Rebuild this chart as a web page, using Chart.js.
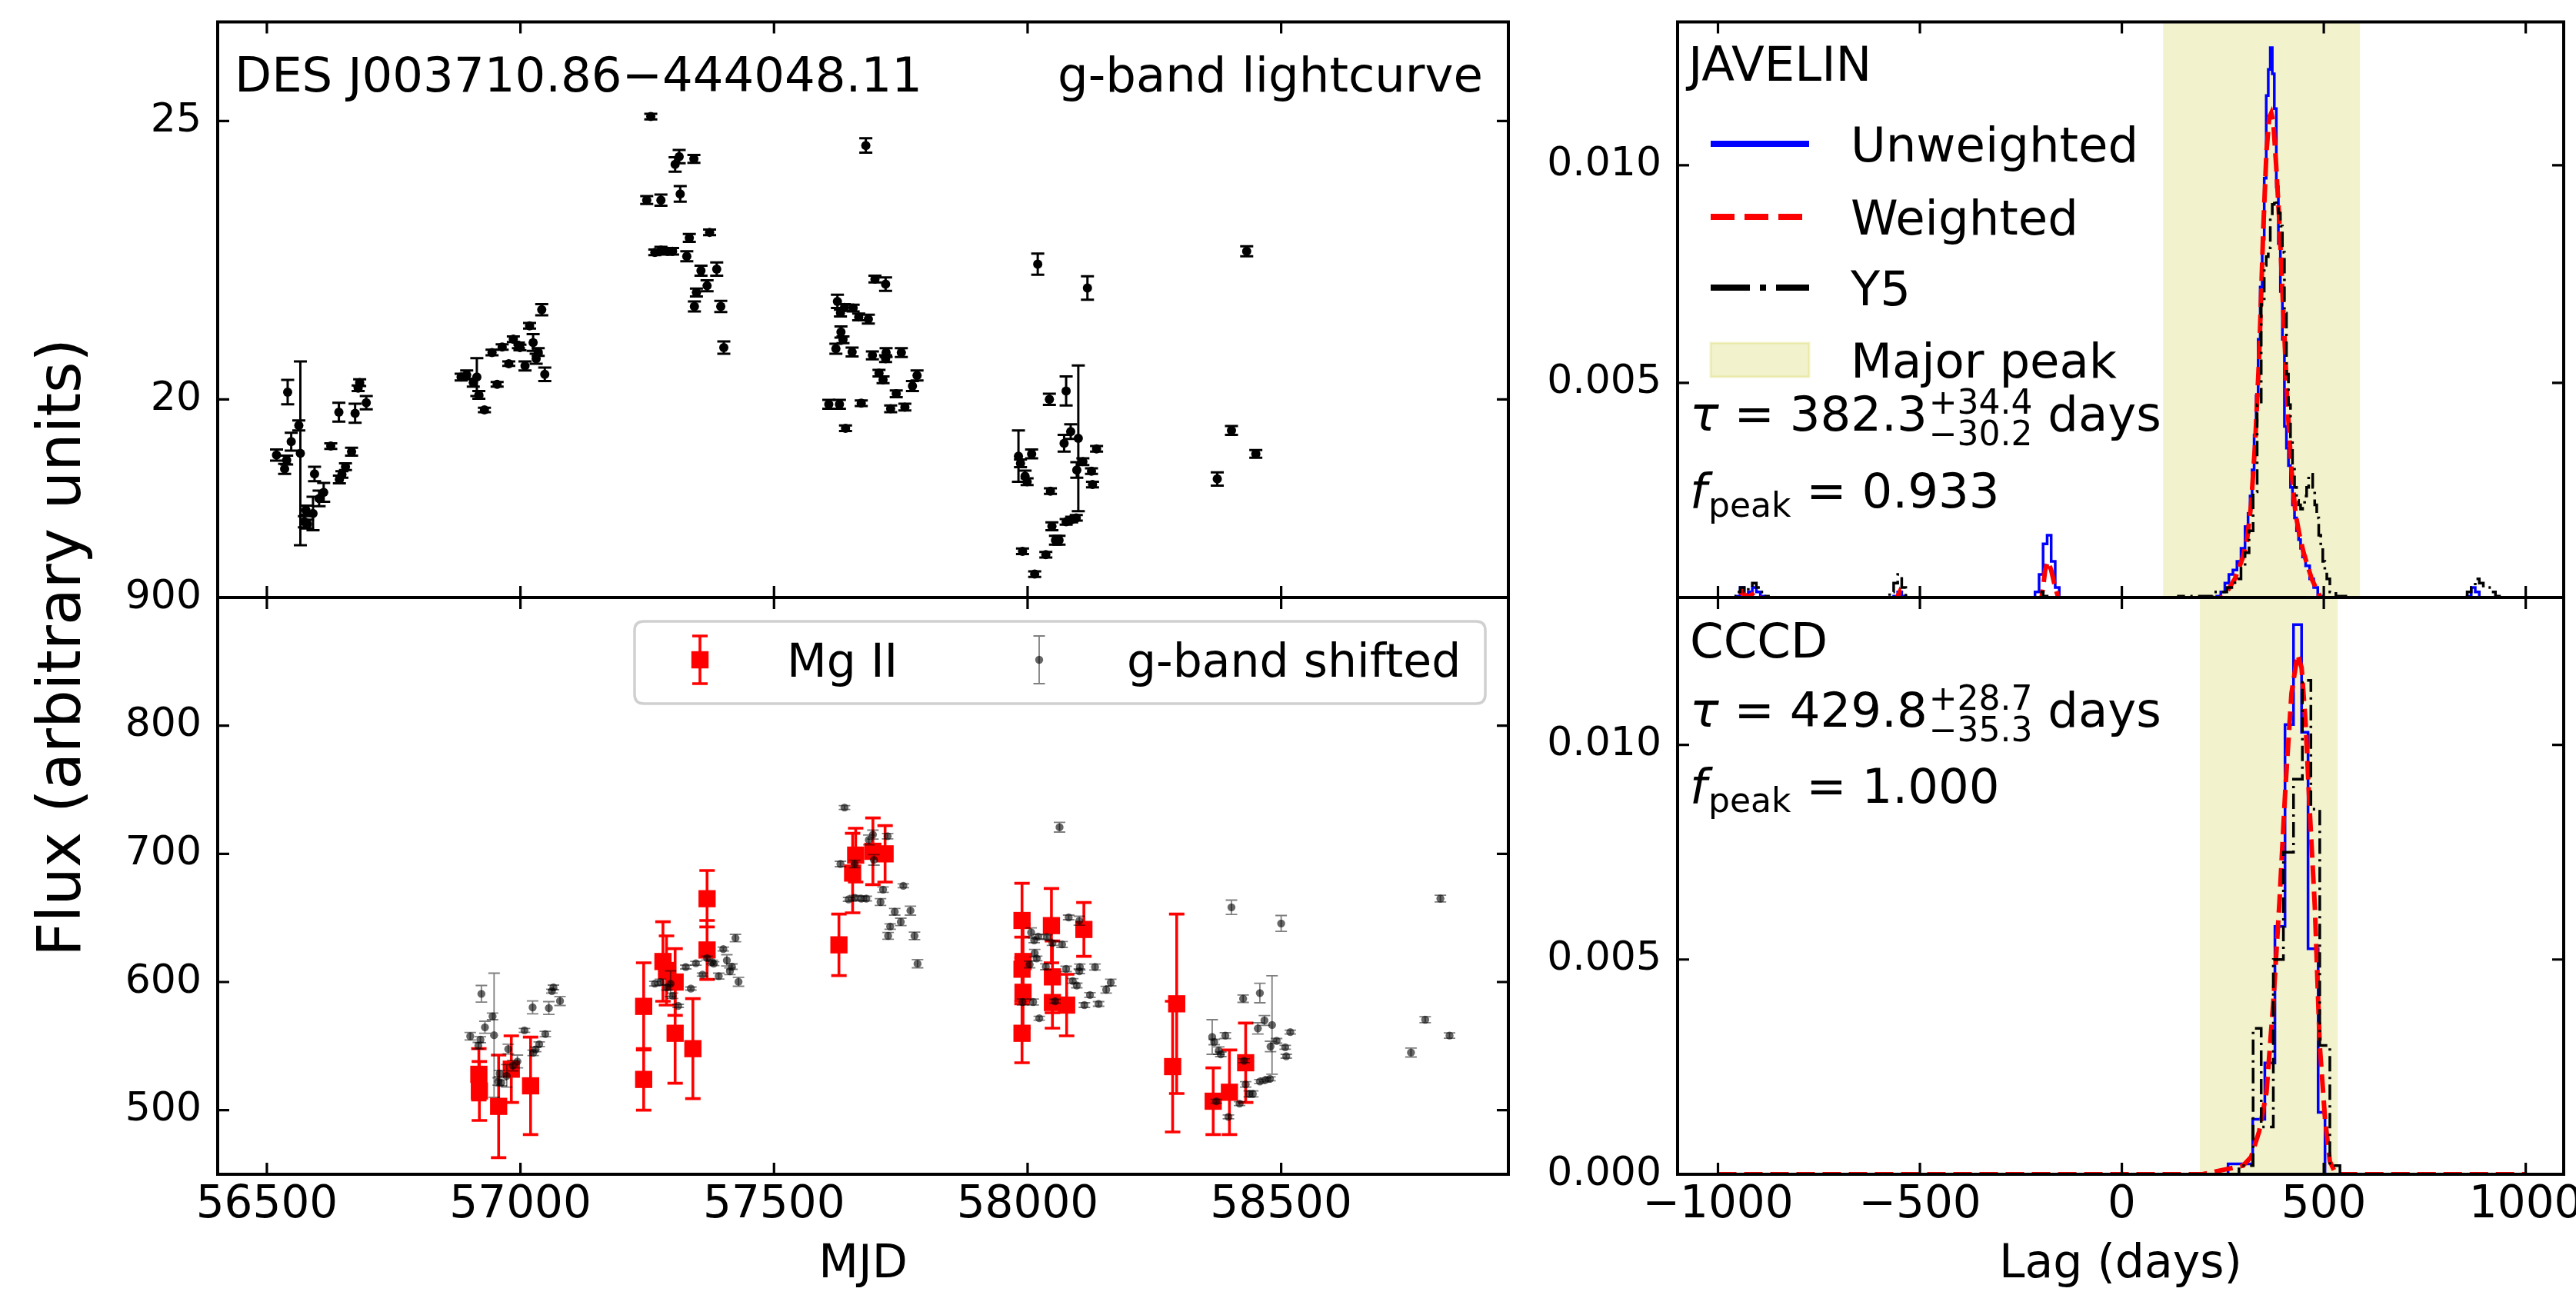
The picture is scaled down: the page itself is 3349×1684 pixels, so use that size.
<!DOCTYPE html>
<html><head><meta charset="utf-8">
<script src="https://cdn.jsdelivr.net/npm/chart.js@4.4.0/dist/chart.umd.min.js"></script>
<style>
html,body{margin:0;padding:0;background:#fff;}
#wrap{position:relative;width:3349px;height:1684px;overflow:hidden;background:#fff;}
#wrap canvas{position:absolute;left:0;top:0;}
</style></head><body>
<div id="wrap">
<canvas id="cLc" width="3349" height="1684"></canvas>
<canvas id="cLine" width="3349" height="1684"></canvas>
<canvas id="cJav" width="3349" height="1684"></canvas>
<canvas id="cCccd" width="3349" height="1684"></canvas>
</div>
<script>
// ---------------- DATA ----------------
// g-band light curve (MJD, flux, error)
const gMjd = [56519,56535,56539,56541,56548,56563,56566,56574,56577,56580,56591,56594,56603,56612,56626,56642,56643,56648,56655,56667,56674,56680,56683,56696,
 56883,56894,56907,56914,56918,56929,56944,56954,56964,56977,56986,56996,56999,57009,57018,57025,57031,57035,57042,57048,
 57249,57257,57265,57277,57277,57290,57300,57305,57313,57315,57328,57333,57342,57343,57347,57356,57368,57373,57387,57395,57401,
 57608,57622,57625,57629,57631,57632,57636,57639,57641,57654,57656,57667,57672,57681,57686,57694,57699,57707,57715,57720,57720,57721,57730,57741,57751,57758,57773,57782,
 57982,57986,57990,57995,57999,58008,58014,58020,58036,58043,58045,58048,58055,58062,58072,58076,58076,58085,58087,58096,58097,58100,58109,58118,58126,58128,58136,
 58374,58402,58432,58450];
const gFlux = [19.00,18.75,18.91,20.13,19.24,19.53,19.03,17.80,18.01,17.76,17.95,18.66,18.22,18.33,19.16,19.77,18.56,18.65,18.79,19.06,19.75,20.20,20.30,19.94,
 20.40,20.44,20.30,20.40,20.08,19.81,20.84,20.27,20.94,20.64,21.08,20.97,20.93,20.60,21.32,21.02,20.73,20.85,21.61,20.45,
 23.58,25.08,22.64,23.58,22.68,22.66,22.66,24.22,24.36,23.69,22.57,22.90,24.32,21.67,21.92,22.31,22.04,23.00,22.34,21.67,20.93,
 19.91,20.91,21.76,19.91,21.55,21.21,21.07,21.65,19.48,20.85,21.64,21.48,19.93,24.56,21.44,20.79,22.16,20.47,20.35,22.07,20.73,20.84,19.83,20.10,20.84,19.86,20.24,20.43,
 18.98,18.85,17.27,18.62,18.52,19.02,16.86,22.43,17.21,20.00,18.35,17.72,17.47,17.47,19.21,20.15,17.80,19.42,17.84,17.87,18.73,19.30,18.88,22.00,18.71,18.47,19.11,
 18.57,19.44,22.66,19.02];
const gErr = [0.10,0.09,0.08,0.22,0.16,0.09,1.65,0.10,0.08,0.08,0.30,0.13,0.14,0.17,0.05,0.17,0.07,0.06,0.06,0.07,0.17,0.05,0.06,0.12,
 0.06,0.08,0.07,0.34,0.07,0.04,0.05,0.04,0.05,0.04,0.05,0.05,0.05,0.08,0.05,0.15,0.09,0.07,0.10,0.12,
 0.07,0.05,0.05,0.10,0.06,0.06,0.06,0.13,0.12,0.14,0.09,0.07,0.07,0.09,0.07,0.09,0.10,0.05,0.12,0.10,0.11,
 0.08,0.09,0.12,0.08,0.06,0.10,0.06,0.06,0.05,0.08,0.06,0.06,0.05,0.13,0.08,0.07,0.06,0.06,0.06,0.12,0.06,0.08,0.06,0.06,0.08,0.06,0.09,0.09,
 0.46,0.07,0.05,0.10,0.06,0.08,0.05,0.19,0.05,0.10,0.05,0.07,0.08,0.08,0.15,0.26,0.05,0.13,0.05,0.05,0.14,1.31,0.06,0.21,0.05,0.05,0.05,
 0.12,0.08,0.09,0.07];

// g-band shifted to the Mg II flux scale (MJD, flux, error)
const gsMjd = [56901,56917,56921,56923,56930,56945,56948,56956,56959,56962,56973,56976,56985,56994,57008,57024,57025,57030,57037,57049,57056,57062,57065,57078,
 57265,57276,57289,57296,57300,57311,57326,57336,57346,57359,57368,57378,57381,57391,57400,57407,57413,57417,57424,57430,
 57631,57639,57647,57659,57659,57672,57682,57687,57695,57697,57710,57715,57724,57725,57729,57738,57750,57755,57769,57777,57783,
 57990,58004,58007,58011,58013,58014,58018,58021,58023,58036,58038,58049,58054,58063,58068,58076,58081,58089,58097,58102,58102,58103,58112,58123,58133,58140,58155,58164,
 58364,58368,58372,58377,58381,58390,58396,58402,58418,58425,58427,58430,58437,58444,58454,58458,58458,58467,58469,58478,58479,58482,58491,58500,58508,58510,58518,
 58756,58784,58814,58832];
const gsFlux = [557.7,550.3,555.0,590.8,564.7,573.2,558.5,522.4,528.6,521.3,526.8,547.7,534.8,538.0,562.3,580.2,544.7,547.4,551.5,559.4,579.7,592.9,595.8,585.2,
 598.7,599.9,595.8,598.7,589.3,581.4,611.7,594.9,614.6,605.8,618.7,615.5,614.3,604.6,625.7,616.9,608.4,612.0,634.3,600.2,
 692.1,736.1,664.5,692.1,665.7,665.1,665.1,710.9,715.0,695.3,662.4,672.1,713.8,636.0,643.3,654.8,646.9,675.1,655.7,636.0,614.3,
 584.4,613.7,638.7,584.4,632.5,622.5,618.4,635.4,571.7,611.9,635.1,630.4,585.0,720.8,629.3,610.2,650.4,600.8,597.3,647.8,608.4,611.7,582.0,589.9,611.7,582.9,594.0,599.6,
 557.1,553.2,506.9,546.5,543.6,558.2,494.8,658.3,505.1,587.0,538.6,520.1,512.7,512.7,563.8,591.4,522.4,570.0,523.6,524.5,549.7,566.5,554.1,645.7,549.1,542.1,560.9,
 545.0,570.6,665.1,558.2];
const gsErr = [2.9,2.6,2.3,6.5,4.7,2.6,48.4,2.9,2.3,2.3,8.8,3.8,4.1,5.0,1.5,5.0,2.1,1.8,1.8,2.1,5.0,1.5,1.8,3.5,
 1.8,2.3,2.1,10.0,2.1,1.2,1.5,1.2,1.5,1.2,1.5,1.5,1.5,2.3,1.5,4.4,2.6,2.1,2.9,3.5,
 2.1,1.5,1.5,2.9,1.8,1.8,1.8,3.8,3.5,4.1,2.6,2.1,2.1,2.6,2.1,2.6,2.9,1.5,3.5,2.9,3.2,
 2.3,2.6,3.5,2.3,1.8,2.9,1.8,1.8,1.5,2.3,1.8,1.8,1.5,3.8,2.3,2.1,1.8,1.8,1.8,3.5,1.8,2.3,1.8,1.8,2.3,1.8,2.6,2.6,
 13.5,2.1,1.5,2.9,1.8,2.3,1.5,5.6,1.5,2.9,1.5,2.1,2.3,2.3,4.4,7.6,1.5,3.8,1.5,1.5,4.1,38.4,1.8,6.2,1.5,1.5,1.5,
 3.5,2.3,2.6,2.1];

// Mg II line light curve
const mgMjd = [56918,56919,56957,56982,57020,57243,57243,57281,57288,57305,57305,57340,57368,57368,57628,57655,57661,57695,57719,57989,57991,57989,57991,57989,58047,58049,58049,58077,58111,58286,58294,58366,58398,58430];
const mgFlux = [528,515,503,532,519,581,524,616,609,600,560,548,665,625,629,685,699,702,700,648,616,610,592,560,644,604,584,582,641,534,583,507,514,537];
const mgErr = [20,23,40,26,38,34,24,31,27,26,39,39,22,23,24,31,21,26,22,29,29,25,28,23,29,28,20,24,21,51,70,26,33,31];

// JAVELIN lag posteriors (lag in days, probability density)
const javUnwLag = [-1000,-960,-950,-940,-930,-920,-910,-900,-890,-880,-570,-560,-550,-540,-530,-220,-210,-200,-190,-180,-170,-160,-150,
 230,240,250,260,270,280,290,300,310,315,320,325,330,335,340,345,350,355,360,365,370,375,380,385,390,395,400,405,410,415,420,425,430,435,440,445,450,460,470,480,490,500,
 850,860,870,880,890,1000];
const javUnw = [0,0,0.0001,0.0003,0.0001,0.0002,0.0003,0.0002,0.0001,0,0,0.0001,0.0002,0.0001,0,0,0.0002,0.0006,0.0013,0.0015,0.0009,0.0003,0,
 0,0.0001,0.0002,0.0004,0.0006,0.0007,0.0009,0.0012,0.0017,0.0020,0.0024,0.0030,0.0038,0.0047,0.0060,0.0072,0.0083,0.0097,0.0116,0.0122,0.0127,0.0121,0.0113,0.0095,0.0082,0.0071,0.0060,0.0040,0.0035,0.0031,0.0026,0.0022,0.0019,0.0016,0.0014,0.0012,0.0010,0.0008,0.0005,0.0003,0.0001,0,
 0,0.0001,0.0003,0.0002,0,0];
const javWLag = [-1000,-950,-940,-930,-920,-910,-900,-890,-560,-550,-540,-200,-195,-190,-183,-175,-165,-155,
 240,260,280,300,310,320,330,340,350,358,365,370,375,382,390,400,410,420,430,440,450,460,470,480,490,500,1000];
const javW = [0,0,0.0002,0.0001,0.0001,0.0002,0.0001,0,0,0.0002,0,0,0.0003,0.0007,0.0009,0.0007,0.0003,0,
 0,0.0002,0.0005,0.0010,0.0014,0.0022,0.0036,0.0056,0.0085,0.0103,0.0111,0.0112,0.0110,0.0100,0.0087,0.0066,0.0045,0.0030,0.0020,0.0015,0.0011,0.0008,0.0005,0.0003,0.0001,0,0];
const javY5Lag = [-1000,-970,-960,-950,-940,-930,-920,-910,-900,-890,-880,-870,-590,-580,-570,-560,-550,-540,-530,-520,-220,-210,-200,-190,-180,
 130,150,200,250,270,290,300,310,320,330,340,350,355,360,365,370,375,380,385,390,395,400,405,410,415,420,425,430,435,440,445,450,455,460,465,470,475,480,485,490,495,500,505,510,520,540,560,580,
 840,850,860,870,880,890,900,910,920,930,940,950,1000];
const javY5 = [0,0,0.0001,0.0002,0.0003,0.0002,0.0003,0.0004,0.0003,0.0002,0.0001,0,0,0,0.0002,0.0004,0.0006,0.0003,0.0001,0,0,0,0.0002,0.0001,0,
 0,0.0001,0.0001,0.0002,0.0003,0.0005,0.0008,0.0011,0.0016,0.0025,0.0045,0.0068,0.0077,0.0079,0.0081,0.0088,0.0091,0.0092,0.0091,0.0089,0.0086,0.0080,0.0066,0.0052,0.0045,0.0037,0.0031,0.0026,0.0023,0.0022,0.0021,0.0022,0.0024,0.0026,0.0029,0.0029,0.0026,0.0022,0.0019,0.0015,0.0012,0.0009,0.0007,0.0005,0.0002,0.0001,0.0001,0,
 0,0,0.0002,0.0003,0.0005,0.0004,0.0003,0.0003,0.0002,0.0001,0,0,0];

// CCCD lag distributions (left bin edges -> density)
const cccdUnwLag = [-1000,263,324,354,379,404,425,445,461,486,503,1000];
const cccdUnw = [0,0.00024,0.00128,0.00259,0.00577,0.01047,0.0128,0.01029,0.00525,0.00144,0,0];
const cccdWLag = [-1000,200,250,300,320,340,358,375,390,405,420,435,445,455,465,478,490,503,515,530,1000];
const cccdW = [0,0,0.0001,0.0002,0.0004,0.0010,0.0019,0.0040,0.0063,0.0090,0.0112,0.0121,0.0118,0.0105,0.0085,0.0062,0.0030,0.0013,0.0003,0,0];
const cccdY5Lag = [-1000,290,325,345,375,400,425,447,468,490,515,540,1000];
const cccdY5 = [0,0.0002,0.0034,0.0011,0.0050,0.0075,0.0092,0.0115,0.0085,0.0030,0.0002,0,0];

// major peak windows
const javPeak = [102, 590];
const cccdPeak = [193, 535];

// ticks
const mjdTicks = [56500,57000,57500,58000,58500];
const lcFluxTicks = [20,25];
const lineFluxTicks = [500,600,700,800,900];
const lagTicks = [-1000,-500,0,500,1000];
const densTicksTop = [0.005,0.010];
const densTicksBottom = [0.000,0.005,0.010];

// ---------------- HELPERS ----------------
const W = 3349, H = 1684;
const FAM = "'DejaVu Sans', sans-serif";
Chart.defaults.font.family = FAM;
Chart.defaults.color = '#000';
const YW = 260; // width reserved for y tick labels

const pts = (xs, ys) => xs.map((v, i) => ({x: v, y: ys[i]}));
const setTicks = arr => s => { s.ticks = arr.map(v => ({value: v})); };
const fixX = h => s => { s.height = h; s.paddingLeft = 0; s.paddingRight = 0; };
const fixY = w => s => { s.width = w; s.paddingTop = 0; s.paddingBottom = 0; };
const minus = v => (v < 0 ? '\u2212' + Math.abs(v) : String(v));
const noGrid = {display: false, drawTicks: false};

const errPlugin = {
  id: 'errbars',
  beforeDatasetDraw(chart, args) {
    const ds = chart.data.datasets[args.index];
    if (!ds.errors) return;
    const {ctx, chartArea: a} = chart;
    const xs = chart.scales.x, ys = chart.scales.y;
    ctx.save();
    ctx.beginPath(); ctx.rect(a.left, a.top, a.right - a.left, a.bottom - a.top); ctx.clip();
    ctx.strokeStyle = ds.errColor; ctx.lineWidth = ds.errWidth;
    const c = ds.errCap;
    ds.data.forEach((p, i) => {
      const e = ds.errors[i];
      const px = xs.getPixelForValue(p.x);
      const y1 = ys.getPixelForValue(p.y - e), y2 = ys.getPixelForValue(p.y + e);
      ctx.beginPath();
      ctx.moveTo(px, y1); ctx.lineTo(px, y2);
      ctx.moveTo(px - c, y1); ctx.lineTo(px + c, y1);
      ctx.moveTo(px - c, y2); ctx.lineTo(px + c, y2);
      ctx.stroke();
    });
    ctx.restore();
  }
};

const framePlugin = {
  id: 'frame',
  afterDatasetsDraw(chart) {
    const {ctx, chartArea: a} = chart;
    const xs = chart.scales.x, ys = chart.scales.y;
    const L = 15;
    ctx.save();
    ctx.strokeStyle = '#000'; ctx.lineWidth = 3.2;
    ctx.beginPath();
    xs.ticks.forEach(t => { const px = xs.getPixelForValue(t.value);
      ctx.moveTo(px, a.bottom); ctx.lineTo(px, a.bottom - L);
      ctx.moveTo(px, a.top); ctx.lineTo(px, a.top + L); });
    ys.ticks.forEach(t => { const py = ys.getPixelForValue(t.value);
      ctx.moveTo(a.left, py); ctx.lineTo(a.left + L, py);
      ctx.moveTo(a.right, py); ctx.lineTo(a.right - L, py); });
    ctx.stroke();
    ctx.lineWidth = 4;
    ctx.strokeRect(a.left, a.top, a.right - a.left, a.bottom - a.top);
    ctx.restore();
  }
};

function font(size, style) { return (style ? style + ' ' : '') + size + 'px ' + FAM; }

function drawTau(ctx, x, y, val, up, lo) {
  const S = 62.5, s = 44;
  ctx.font = font(S, 'italic'); ctx.fillText('\u03c4', x, y); x += ctx.measureText('\u03c4').width;
  ctx.font = font(S); const t = ' = ' + val; ctx.fillText(t, x, y); x += ctx.measureText(t).width;
  ctx.font = font(s); x += 2;
  ctx.fillText(up, x, y - 22); const w1 = ctx.measureText(up).width;
  ctx.fillText(lo, x, y + 19); const w2 = ctx.measureText(lo).width;
  x += Math.max(w1, w2);
  ctx.font = font(S); ctx.fillText(' days', x, y);
}
function drawFpeak(ctx, x, y, val) {
  const S = 62.5, s = 44;
  ctx.font = font(S, 'italic'); ctx.fillText('f', x, y); x += ctx.measureText('f').width + 2;
  ctx.font = font(s); ctx.fillText('peak', x, y + 12); x += ctx.measureText('peak').width;
  ctx.font = font(S); ctx.fillText(' = ' + val, x, y);
}

const baseOpts = (padding) => ({
  responsive: false, animation: false, devicePixelRatio: 1,
  layout: {padding},
  plugins: {legend: {display: false}, tooltip: {enabled: false}},
  events: []
});

// ---------------- TOP-LEFT: g-band light curve ----------------
new Chart(document.getElementById('cLc'), {
  type: 'scatter',
  data: {datasets: [{
    data: pts(gMjd, gFlux), errors: gErr, errColor: '#000', errWidth: 3, errCap: 8.5,
    pointRadius: 6, backgroundColor: '#000', borderWidth: 0
  }]},
  options: Object.assign(baseOpts({left: 283 - YW, top: 28.5, right: W - 1961, bottom: H - 777}), {
    scales: {
      x: {type: 'linear', min: 56403, max: 58948, afterBuildTicks: setTicks(mjdTicks), afterFit: fixX(0),
          ticks: {display: false}, grid: noGrid, border: {display: false}},
      y: {type: 'linear', min: 16.44, max: 26.78, afterBuildTicks: setTicks(lcFluxTicks), afterFit: fixY(YW),
          ticks: {font: {size: 52}, padding: 21, color: '#000', callback: v => String(v)}, grid: noGrid, border: {display: false}}
    }
  }),
  plugins: [errPlugin, framePlugin, {
    id: 'lcText',
    afterDraw(chart) {
      const ctx = chart.ctx; ctx.save(); ctx.fillStyle = '#000'; ctx.textBaseline = 'alphabetic';
      ctx.font = font(62.5);
      ctx.textAlign = 'left'; ctx.fillText('DES J003710.86\u2212444048.11', 305, 119);
      ctx.textAlign = 'right'; ctx.fillText('g-band lightcurve', 1928, 119);
      ctx.restore();
    }
  }]
});

// ---------------- BOTTOM-LEFT: Mg II + shifted g-band ----------------
new Chart(document.getElementById('cLine'), {
  type: 'scatter',
  data: {datasets: [
    {label: 'g-band shifted', order: 0, data: pts(gsMjd, gsFlux), errors: gsErr, errColor: 'rgba(0,0,0,0.5)', errWidth: 1.8, errCap: 7.5,
     pointRadius: 5.2, backgroundColor: 'rgba(0,0,0,0.6)', borderWidth: 0},
    {label: 'Mg II', order: 1, data: pts(mgMjd, mgFlux), errors: mgErr, errColor: '#ff0000', errWidth: 3.6, errCap: 10,
     pointStyle: 'rect', pointRadius: 15.8, backgroundColor: '#ff0000', borderWidth: 0}
  ]},
  options: Object.assign(baseOpts({left: 283 - YW, top: 777, right: W - 1961, bottom: 0}), {
    scales: {
      x: {type: 'linear', min: 56403, max: 58948, afterBuildTicks: setTicks(mjdTicks), afterFit: fixX(H - 1527),
          ticks: {font: {size: 58}, padding: 6, color: '#000', autoSkip: false, maxRotation: 0, callback: v => String(v)},
          title: {display: true, text: 'MJD', font: {size: 60}, color: '#000', padding: {top: 0, bottom: 3}},
          grid: noGrid, border: {display: false}},
      y: {type: 'linear', min: 450, max: 900, afterBuildTicks: setTicks(lineFluxTicks), afterFit: fixY(YW),
          ticks: {font: {size: 52}, padding: 21, color: '#000', callback: v => String(v)}, grid: noGrid, border: {display: false}}
    }
  }),
  plugins: [errPlugin, framePlugin, {
    id: 'lineText',
    afterDraw(chart) {
      const ctx = chart.ctx; ctx.save();
      // y-axis label shared by both left panels
      ctx.save(); ctx.translate(84, 842); ctx.rotate(-Math.PI / 2);
      ctx.fillStyle = '#000'; ctx.font = font(78); ctx.textAlign = 'center'; ctx.textBaseline = 'middle';
      ctx.fillText('Flux (arbitrary units)', 0, 0); ctx.restore();
      // legend box
      const bx = 825, by = 808, bw = 1931 - 825, bh = 915 - 808, r = 12;
      ctx.beginPath();
      ctx.moveTo(bx + r, by); ctx.lineTo(bx + bw - r, by); ctx.quadraticCurveTo(bx + bw, by, bx + bw, by + r);
      ctx.lineTo(bx + bw, by + bh - r); ctx.quadraticCurveTo(bx + bw, by + bh, bx + bw - r, by + bh);
      ctx.lineTo(bx + r, by + bh); ctx.quadraticCurveTo(bx, by + bh, bx, by + bh - r);
      ctx.lineTo(bx, by + r); ctx.quadraticCurveTo(bx, by, bx + r, by); ctx.closePath();
      ctx.fillStyle = 'rgba(255,255,255,0.8)'; ctx.fill();
      ctx.strokeStyle = '#d0d0d0'; ctx.lineWidth = 3.5; ctx.stroke();
      // Mg II handle
      const cy = 858;
      ctx.strokeStyle = '#ff0000'; ctx.lineWidth = 3.6; ctx.beginPath();
      ctx.moveTo(910, cy - 31); ctx.lineTo(910, cy + 31);
      ctx.moveTo(900, cy - 31); ctx.lineTo(920, cy - 31); ctx.moveTo(900, cy + 31); ctx.lineTo(920, cy + 31); ctx.stroke();
      ctx.fillStyle = '#ff0000'; ctx.fillRect(910 - 11.2, cy - 11.2, 22.4, 22.4);
      // g-band handle
      ctx.strokeStyle = 'rgba(0,0,0,0.5)'; ctx.lineWidth = 1.8; ctx.beginPath();
      ctx.moveTo(1351, cy - 31); ctx.lineTo(1351, cy + 31);
      ctx.moveTo(1343.5, cy - 31); ctx.lineTo(1358.5, cy - 31); ctx.moveTo(1343.5, cy + 31); ctx.lineTo(1358.5, cy + 31); ctx.stroke();
      ctx.fillStyle = 'rgba(0,0,0,0.6)'; ctx.beginPath(); ctx.arc(1351, cy, 5.2, 0, Math.PI * 2); ctx.fill();
      ctx.fillStyle = '#000'; ctx.font = font(60); ctx.textAlign = 'left'; ctx.textBaseline = 'alphabetic';
      ctx.fillText('Mg II', 1023, 880);
      ctx.fillText('g-band shifted', 1465, 880);
      ctx.restore();
    }
  }]
});

// ---------------- TOP-RIGHT: JAVELIN ----------------
const SHADE = 'rgba(191,191,0,0.2)';
new Chart(document.getElementById('cJav'), {
  type: 'scatter',
  data: {datasets: [
    {label: 'Major peak', order: 10, data: [{x: javPeak[0], y: 1}, {x: javPeak[1], y: 1}], showLine: true, borderWidth: 0,
     fill: 'origin', backgroundColor: SHADE, pointRadius: 0},
    {label: 'Unweighted', order: 3, data: pts(javUnwLag, javUnw), showLine: true, stepped: 'middle', borderColor: '#0000ff', borderWidth: 3.5, pointRadius: 0, fill: false},
    {label: 'Weighted', order: 2, data: pts(javWLag, javW), showLine: true, borderColor: '#ff0000', borderWidth: 6, borderDash: [24, 10], pointRadius: 0, fill: false},
    {label: 'Y5', order: 1, data: pts(javY5Lag, javY5), showLine: true, stepped: 'middle', borderColor: '#000', borderWidth: 3.5, borderDash: [20, 7, 3, 7], pointRadius: 0, fill: false}
  ]},
  options: Object.assign(baseOpts({left: 2181 - YW, top: 28.5, right: W - 3333, bottom: H - 777}), {
    scales: {
      x: {type: 'linear', min: -1100, max: 1094, afterBuildTicks: setTicks(lagTicks), afterFit: fixX(0),
          ticks: {display: false}, grid: noGrid, border: {display: false}},
      y: {type: 'linear', min: 0.00007, max: 0.01329, afterBuildTicks: setTicks(densTicksTop), afterFit: fixY(YW),
          ticks: {font: {size: 52}, padding: 21, color: '#000', callback: v => v.toFixed(3)}, grid: noGrid, border: {display: false}}
    }
  }),
  plugins: [framePlugin, {
    id: 'javText',
    afterDraw(chart) {
      const ctx = chart.ctx; ctx.save(); ctx.fillStyle = '#000'; ctx.textBaseline = 'alphabetic'; ctx.textAlign = 'left';
      ctx.font = font(62.5); ctx.fillText('JAVELIN', 2195, 105);
      const rows = [187, 282, 374, 468];
      const x0 = 2224, x1 = 2352;
      ctx.lineCap = 'butt';
      ctx.strokeStyle = '#0000ff'; ctx.lineWidth = 8; ctx.setLineDash([]);
      ctx.beginPath(); ctx.moveTo(x0, rows[0]); ctx.lineTo(x1, rows[0]); ctx.stroke();
      ctx.strokeStyle = '#ff0000'; ctx.setLineDash([31, 13]);
      ctx.beginPath(); ctx.moveTo(x0, rows[1]); ctx.lineTo(x1, rows[1]); ctx.stroke();
      ctx.strokeStyle = '#000'; ctx.setLineDash([51, 13, 8, 13]);
      ctx.beginPath(); ctx.moveTo(x0, rows[2]); ctx.lineTo(x1, rows[2]); ctx.stroke();
      ctx.setLineDash([]);
      ctx.fillStyle = SHADE; ctx.fillRect(x0, rows[3] - 22, x1 - x0, 44);
      ctx.strokeStyle = SHADE; ctx.lineWidth = 3; ctx.strokeRect(x0, rows[3] - 22, x1 - x0, 44);
      ctx.fillStyle = '#000'; ctx.font = font(62.5);
      ['Unweighted', 'Weighted', 'Y5', 'Major peak'].forEach((t, i) => ctx.fillText(t, 2406, rows[i] + 23));
      drawTau(ctx, 2197, 560, '382.3', '+34.4', '\u221230.2');
      drawFpeak(ctx, 2197, 660, '0.933');
      ctx.restore();
    }
  }]
});

// ---------------- BOTTOM-RIGHT: CCCD ----------------
new Chart(document.getElementById('cCccd'), {
  type: 'scatter',
  data: {datasets: [
    {label: 'Major peak', order: 10, data: [{x: cccdPeak[0], y: 1}, {x: cccdPeak[1], y: 1}], showLine: true, borderWidth: 0,
     fill: 'origin', backgroundColor: SHADE, pointRadius: 0},
    {label: 'Unweighted', order: 3, data: pts(cccdUnwLag, cccdUnw), showLine: true, stepped: 'before', borderColor: '#0000ff', borderWidth: 3.5, pointRadius: 0, fill: false},
    {label: 'Weighted', order: 2, data: pts(cccdWLag, cccdW), showLine: true, borderColor: '#ff0000', borderWidth: 6, borderDash: [24, 10], pointRadius: 0, fill: false},
    {label: 'Y5', order: 1, data: pts(cccdY5Lag, cccdY5), showLine: true, stepped: 'before', borderColor: '#000', borderWidth: 3.5, borderDash: [20, 7, 3, 7], pointRadius: 0, fill: false}
  ]},
  options: Object.assign(baseOpts({left: 2181 - YW, top: 777, right: W - 3333, bottom: 0}), {
    scales: {
      x: {type: 'linear', min: -1100, max: 1094, afterBuildTicks: setTicks(lagTicks), afterFit: fixX(H - 1527),
          ticks: {font: {size: 58}, padding: 6, color: '#000', autoSkip: false, maxRotation: 0, callback: v => minus(v)},
          title: {display: true, text: 'Lag (days)', font: {size: 60}, color: '#000', padding: {top: 0, bottom: 3}},
          grid: noGrid, border: {display: false}},
      y: {type: 'linear', min: 0, max: 0.01343, afterBuildTicks: setTicks(densTicksBottom), afterFit: fixY(YW),
          ticks: {font: {size: 52}, padding: 21, color: '#000', callback: v => v.toFixed(3)}, grid: noGrid, border: {display: false}}
    }
  }),
  plugins: [framePlugin, {
    id: 'cccdText',
    afterDraw(chart) {
      const ctx = chart.ctx; ctx.save(); ctx.fillStyle = '#000'; ctx.textBaseline = 'alphabetic'; ctx.textAlign = 'left';
      ctx.font = font(62.5); ctx.fillText('CCCD', 2197, 855);
      drawTau(ctx, 2197, 945, '429.8', '+28.7', '\u221235.3');
      drawFpeak(ctx, 2197, 1044, '1.000');
      ctx.restore();
    }
  }]
});
</script>
</body></html>
